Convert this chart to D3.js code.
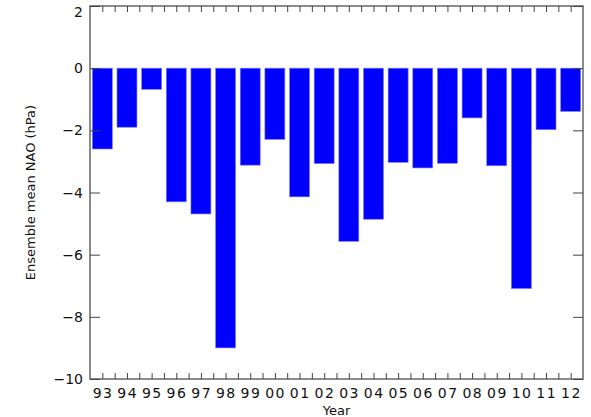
<!DOCTYPE html>
<html><head><meta charset="utf-8">
<script src="https://cdn.jsdelivr.net/npm/d3@7"></script>
<style>body{margin:0;background:#fff}svg{display:block}</style>
</head><body>
<script>
const years = ["93","94","95","96","97","98","99","00","01","02","03","04","05","06","07","08","09","10","11","12"];
const values = [-2.6,-1.9,-0.68,-4.3,-4.69,-9.0,-3.12,-2.29,-4.14,-3.07,-5.57,-4.86,-3.03,-3.21,-3.06,-1.6,-3.14,-7.09,-1.98,-1.39];
const yTicks = [2,0,-2,-4,-6,-8,-10];
const yLabel = "Ensemble mean NAO (hPa)";
const xLabel = "Year";

const W = 591, H = 417;
const m = {left:90, right:8, top:6, bottom:38};
const svg = d3.select("body").append("svg").attr("width",W).attr("height",H);
const x = d3.scaleBand().domain(years).range([m.left, W-m.right]).paddingInner(0.19).paddingOuter(0.095);
const y = d3.scaleLinear().domain([-10,2]).range([H-m.bottom, m.top]);
const font = "DejaVu Sans";
const axisCol = "#666";

// bars
svg.append("g").selectAll("rect").data(values).join("rect")
  .attr("x",(d,i)=>x(years[i])).attr("width",x.bandwidth())
  .attr("y",d=>y(Math.max(0,d))).attr("height",d=>Math.abs(y(d)-y(0)))
  .attr("fill","#0000ff").attr("stroke","#7b7bff").attr("stroke-width",0.6);

// frame
svg.append("rect").attr("x",m.left).attr("y",m.top).attr("width",W-m.right-m.left).attr("height",H-m.bottom-m.top)
  .attr("fill","none").attr("stroke",axisCol).attr("stroke-width",1.5);

// y axes
const yl = svg.append("g").attr("transform",`translate(${m.left},0)`)
  .call(d3.axisRight(y).tickValues(yTicks).tickSize(10).tickFormat(""));
const yr = svg.append("g").attr("transform",`translate(${W-m.right},0)`)
  .call(d3.axisLeft(y).tickValues(yTicks).tickSize(10).tickFormat(""));
svg.selectAll("text.yt").data(yTicks).join("text").attr("class","yt")
  .attr("x",m.left-7).attr("y",d=>Math.max(y(d),11.5)).attr("dy","0.36em").attr("text-anchor","end")
  .attr("font-family",font).attr("font-size",14).attr("fill","#111")
  .text(d=>d<0?"\u2212"+Math.abs(d):d);

// x ticks: band centers and band edges
const xMinor = d3.scaleLinear().domain([0,years.length]).range([m.left, W-m.right]);
const tickPos = d3.range(0, years.length*2+1).map(k=>k/2).filter(k=>k>0 && k<years.length);
const xb = svg.append("g").attr("transform",`translate(0,${H-m.bottom})`)
  .call(d3.axisTop(xMinor).tickValues(tickPos).tickSize(6).tickFormat(""));
const xt = svg.append("g").attr("transform",`translate(0,${m.top})`)
  .call(d3.axisBottom(xMinor).tickValues(tickPos).tickSize(6).tickFormat(""));
[yl,yr,xb,xt].forEach(g=>{g.select(".domain").remove();g.selectAll("line").attr("stroke","#444").attr("stroke-width",1);});

svg.selectAll("text.xt").data(years).join("text").attr("class","xt")
  .attr("x",d=>x(d)+x.bandwidth()/2+0.75).attr("y",398).attr("text-anchor","middle")
  .attr("font-family",font).attr("font-size",14).attr("letter-spacing","1.5px").attr("fill","#111").text(d=>d);

svg.append("text").attr("x",(m.left+W-m.right)/2).attr("y",H-2).attr("text-anchor","middle")
  .attr("font-family",font).attr("font-size",13).attr("fill","#111").text(xLabel);
svg.append("text").attr("transform",`translate(35,${(m.top+H-m.bottom)/2}) rotate(-90)`)
  .attr("text-anchor","middle").attr("font-family",font).attr("font-size",13).attr("fill","#111").text(yLabel);
</script>
</body></html>
